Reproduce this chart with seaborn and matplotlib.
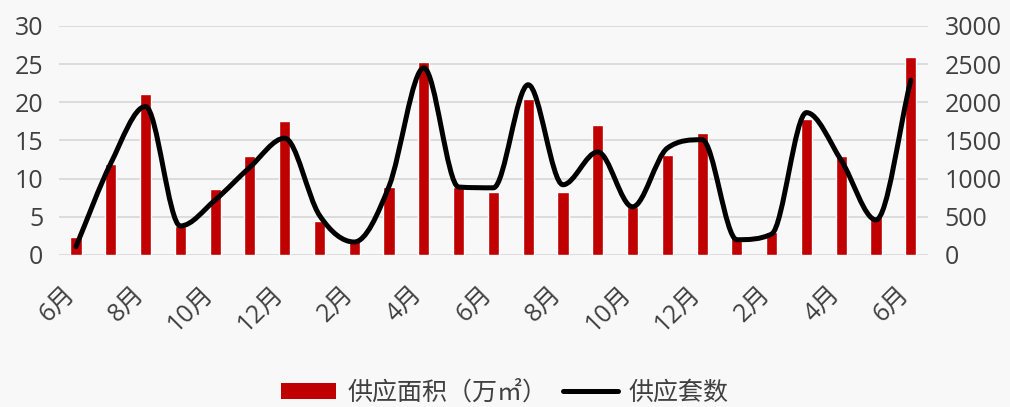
import matplotlib.pyplot as plt
import matplotlib.transforms as mtransforms
import seaborn as sns
import pandas as pd
import numpy as np
from matplotlib.path import Path
from matplotlib.patches import PathPatch, Patch
from matplotlib.lines import Line2D

# data
months = ['6月', '7月', '8月', '9月', '10月', '11月', '12月', '1月', '2月', '3月', '4月', '5月',
          '6月', '7月', '8月', '9月', '10月', '11月', '12月', '1月', '2月', '3月', '4月', '5月', '6月']
area = [2.3, 11.9, 21.1, 3.8, 8.7, 13.0, 17.5, 4.4, 1.8, 8.9, 25.3, 8.9, 8.2,
        20.4, 8.3, 17.0, 6.3, 13.1, 16.0, 2.3, 3.0, 17.8, 13.0, 5.0, 25.9]
units = [110, 1200, 1945, 380, 720, 1150, 1530, 520, 170, 900, 2450, 890, 880,
         2230, 920, 1350, 630, 1400, 1510, 200, 275, 1865, 1240, 460, 2290]

bg = '#F8F8F8'
red = '#C00000'
txt = '#404040'
fs = 18

sns.set_theme(style='white')
plt.rcParams['font.family'] = ['Open Sans', 'Noto Sans CJK SC', 'DejaVu Sans']

df = pd.DataFrame({'idx': range(len(months)), 'area': area})

fig = plt.figure(figsize=(10.1, 4.07), dpi=100, facecolor=bg)
ax = fig.add_axes([0.058, 0.3735, 0.861, 0.5627])
ax.set_facecolor(bg)

sns.barplot(data=df, x='idx', y='area', color=red, saturation=1, width=0.32, ax=ax, zorder=2)
ax.set_xlim(-0.5, len(months) - 0.5)
ax.set_ylim(0, 30)
ax.set_yticks(range(0, 31, 5))
ax.yaxis.grid(True, color='#D9D9D9', linewidth=1.3, zorder=0)
ax.set_axisbelow(True)
ax.set_xlabel('')
ax.set_ylabel('')
ticks = list(range(0, len(months), 2))
ax.set_xticks(ticks)
ax.set_xticklabels([months[i] for i in ticks], rotation=45, ha='right', va='top',
                   rotation_mode='anchor', fontsize=fs, color=txt)
ax.tick_params(axis='x', length=0, pad=19)
shift = mtransforms.ScaledTranslation(-14 / 100, 0, fig.dpi_scale_trans)
for lab in ax.get_xticklabels():
    lab.set_transform(lab.get_transform() + shift)
ax.tick_params(axis='y', length=0, labelsize=fs, labelcolor=txt, pad=11)
for s in ax.spines.values():
    s.set_visible(False)

# second axis for unit counts
ax2 = ax.twinx()
ax2.set_ylim(0, 3000)
ax2.set_yticks(range(0, 3001, 500))
ax2.tick_params(axis='y', length=0, labelsize=fs, labelcolor=txt, pad=12)
for s in ax2.spines.values():
    s.set_visible(False)
ax2.grid(False)

# smoothed line: cubic bezier through the points, tangents limited so it does not overshoot
xs = np.arange(len(units), dtype=float)
ys = np.array(units, dtype=float)
d = np.diff(ys)
m = np.zeros_like(ys)
m[0], m[-1] = d[0], d[-1]
for k in range(1, len(ys) - 1):
    if d[k - 1] * d[k] > 0:
        m[k] = (d[k - 1] + d[k]) / 2
for k in range(len(d)):
    if d[k] == 0:
        m[k] = m[k + 1] = 0
        continue
    a, b = m[k] / d[k], m[k + 1] / d[k]
    if a * a + b * b > 9:
        t = 3 / np.sqrt(a * a + b * b)
        m[k], m[k + 1] = t * a * d[k], t * b * d[k]

verts = [(xs[0], ys[0])]
codes = [Path.MOVETO]
for k in range(len(d)):
    verts += [(xs[k] + 1 / 3, ys[k] + m[k] / 3),
              (xs[k + 1] - 1 / 3, ys[k + 1] - m[k + 1] / 3),
              (xs[k + 1], ys[k + 1])]
    codes += [Path.CURVE4] * 3
ax2.add_patch(PathPatch(Path(verts, codes), fill=False, edgecolor='black',
                        linewidth=3.6, capstyle='round', joinstyle='round', zorder=3))

handles = [Patch(facecolor=red, edgecolor='none'),
           Line2D([0], [0], color='black', linewidth=3.6)]
fig.legend(handles, ['供应面积（万㎡）', '供应套数'], loc='center', bbox_to_anchor=(0.5, 0.035),
           ncol=2, frameon=False, fontsize=fs, handlelength=2.2, handleheight=0.65,
           columnspacing=0.6, handletextpad=0.45, labelcolor=txt,
           prop={'family': ['Noto Sans CJK SC', 'DejaVu Sans'], 'size': fs})

fig.savefig('out.png', dpi=100, facecolor=bg)
